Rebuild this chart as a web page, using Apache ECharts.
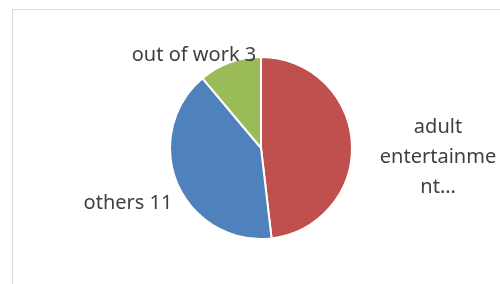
<!DOCTYPE html>
<html>
<head>
<meta charset="utf-8">
<script src="https://cdn.jsdelivr.net/npm/echarts@6/dist/echarts.min.js"></script>
<style>
  html, body { margin: 0; padding: 0; background: #fff; }
  #frame { position: absolute; left: 12px; top: 9px; width: 600px; height: 400px; border: 1px solid #d9d9d9; }
  #chart { position: absolute; left: 0; top: 0; width: 500px; height: 284px; }
</style>
</head>
<body>
<div id="frame"></div>
<div id="chart"></div>
<script>
const categories = ['adult entertainment', 'others', 'out of work']
const values = [13, 11, 3]
const colors = ['#C0504D', '#4F81BD', '#9BBB59']
// Excel cuts the long label off, so the shown text is kept as it appears
const labelTexts = ['adult\nentertainme\nnt…', 'others 11', 'out of work 3']
const labelSpots = [[438, 157], [128, 203], [194, 55]]

const mChart = echarts.init(document.getElementById('chart'))
mChart.setOption({
  animation: false,
  series: [{
    type: 'pie',
    center: [261, 148],
    radius: [0, 91],
    startAngle: 90,
    clockwise: true,
    itemStyle: { borderColor: '#fff', borderWidth: 2 },
    label: {
      show: true,
      color: '#404040',
      fontFamily: 'Noto Sans',
      fontSize: 20,
      lineHeight: 30,
      align: 'center',
      overflow: 'none',
      formatter: (p) => labelTexts[p.dataIndex]
    },
    labelLine: { show: false },
    labelLayout: (p) => ({
      x: labelSpots[p.dataIndex][0],
      y: labelSpots[p.dataIndex][1],
      align: 'center',
      verticalAlign: 'middle'
    }),
    data: categories.map((name, i) => ({
      name,
      value: values[i],
      itemStyle: { color: colors[i] }
    }))
  }]
})
</script>
</body>
</html>
